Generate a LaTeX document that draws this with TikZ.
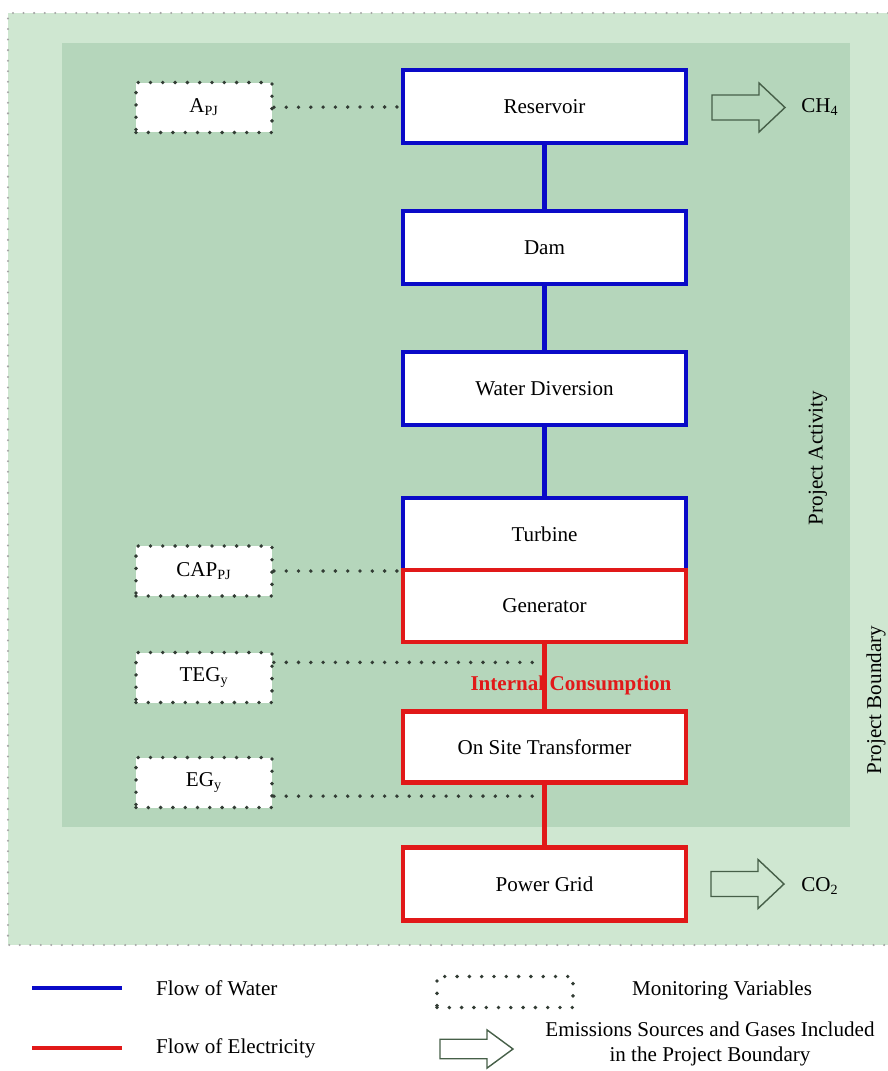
\documentclass[tikz,border=0pt]{standalone}
\usepackage{fontspec}
\setmainfont{Liberation Serif}
\usetikzlibrary{calc}

\definecolor{boundgreen}{RGB}{207,231,209}
\definecolor{actgreen}{RGB}{181,214,187}
\definecolor{waterblue}{RGB}{10,10,200}
\definecolor{elecred}{RGB}{225,25,25}
\definecolor{dotgray}{RGB}{50,60,52}
\definecolor{arrowgray}{RGB}{70,95,72}

\tikzset{
  unitbox/.style={draw, fill=white, line width=2.4pt, minimum width=5.66cm,
    minimum height=1.46cm, inner sep=0pt},
  waterbox/.style={unitbox, draw=waterblue},
  elecbox/.style={unitbox, draw=elecred},
  water/.style={draw=waterblue, line width=2.3pt},
  elec/.style={draw=elecred, line width=2.3pt},
  monline/.style={draw=dotgray, line width=2.2pt, dash pattern=on 0pt off 7pt,
    line cap=round},
  monbox/.style={monline, fill=white, minimum width=2.72cm, minimum height=1cm},
  bnddot/.style={draw=gray!70, line width=1.3pt, dash pattern=on 0pt off 6pt,
    line cap=round},
  emitline/.style={draw=arrowgray, line width=0.8pt},
}

\newcommand{\emitarrow}[2][]{%
  \draw[emitline, shift={(#2)}, #1] (0,-12.5) -- (47,-12.5) -- (47,-24.5)
    -- (73,0) -- (47,24.5) -- (47,12.5) -- (0,12.5) -- cycle;}

\begin{document}
\begin{tikzpicture}[x=0.02cm, y=-0.02cm, font=\fontsize{12}{14}\selectfont]
  \useasboundingbox (0,0) rectangle (888,1071);

  % Project boundary
  \fill[boundgreen] (8,13) rectangle (888,945);
  \draw[bnddot] (888,13) -- (8,13) -- (8,945) -- (888,945);
  \node[rotate=90] (bndlbl) at (876,700) {Project Boundary};

  % Project activity
  \fill[actgreen] (62,43) rectangle (850,827);
  \node[rotate=90] (actlbl) at (818,458) {Project Activity};

  % Flow of water
  \node[waterbox] (res) at (544.5,106.5) {Reservoir};
  \node[waterbox] (dam) at (544.5,247.5) {Dam};
  \node[waterbox] (div) at (544.5,388.5) {Water Diversion};
  \node[waterbox, minimum height=1.44cm] (tur) at (544.5,534) {Turbine};
  \draw[water] (res) -- (dam);
  \draw[water] (dam) -- (div);
  \draw[water] (div) -- (tur);

  % Flow of electricity
  \node[elecbox, minimum height=1.44cm] (gen) at (544.5,606) {Generator};
  \node[elecbox, minimum height=1.42cm] (trans) at (544.5,747) {On Site Transformer};
  \node[elecbox] (grid) at (544.5,884) {Power Grid};

  % Monitoring variables
  \node[monbox] (apj) at (204,107.5) {A\textsubscript{PJ}};
  \node[monbox] (cap) at (204,571) {CAP\textsubscript{PJ}};
  \node[monbox] (teg) at (204,677.5) {TEG\textsubscript{y}};
  \node[monbox] (eg) at (204,782.5) {EG\textsubscript{y}};
  \coordinate (tegtap) at ($(gen.south)!0.28!(trans.north)$);
  \coordinate (egtap) at ($(trans.south)!0.19!(grid.north)$);
  \draw[monline] (apj) -- (res);
  \draw[monline] (cap) -- (cap -| gen.west);
  \draw[monline] (teg.east |- tegtap) -- (tegtap);
  \draw[monline] (eg.east |- egtap) -- (egtap);

  \draw[elec] (gen) -- (trans);
  \draw[elec] (trans) -- (grid);
  \node[text=elecred, font=\fontsize{12}{14}\selectfont\bfseries] (intcons)
    at (571,685) {Internal Consumption};

  % Emissions
  \emitarrow{712,107.5}
  \node (ch4) at (820,107) {CH\textsubscript{4}};
  \emitarrow{711,884}
  \node (co2) at (820,886) {CO\textsubscript{2}};

  % Legend
  \draw[water] (32,988) -- (122,988);
  \node[anchor=west] (lwater) at (150,988) {Flow of Water};
  \draw[elec] (32,1048) -- (122,1048);
  \node[anchor=west] (lelec) at (150,1048) {Flow of Electricity};
  \node[monline, minimum width=2.72cm, minimum height=0.62cm] (lmon) at (505,992) {};
  \node[anchor=west] (lmontxt) at (626,990) {Monitoring Variables};
  \emitarrow[yscale=0.78]{440,1049}
  \node[align=center] (lemit) at (710,1044)
    {Emissions Sources and Gases Included\\in the Project Boundary};
\end{tikzpicture}
\end{document}
